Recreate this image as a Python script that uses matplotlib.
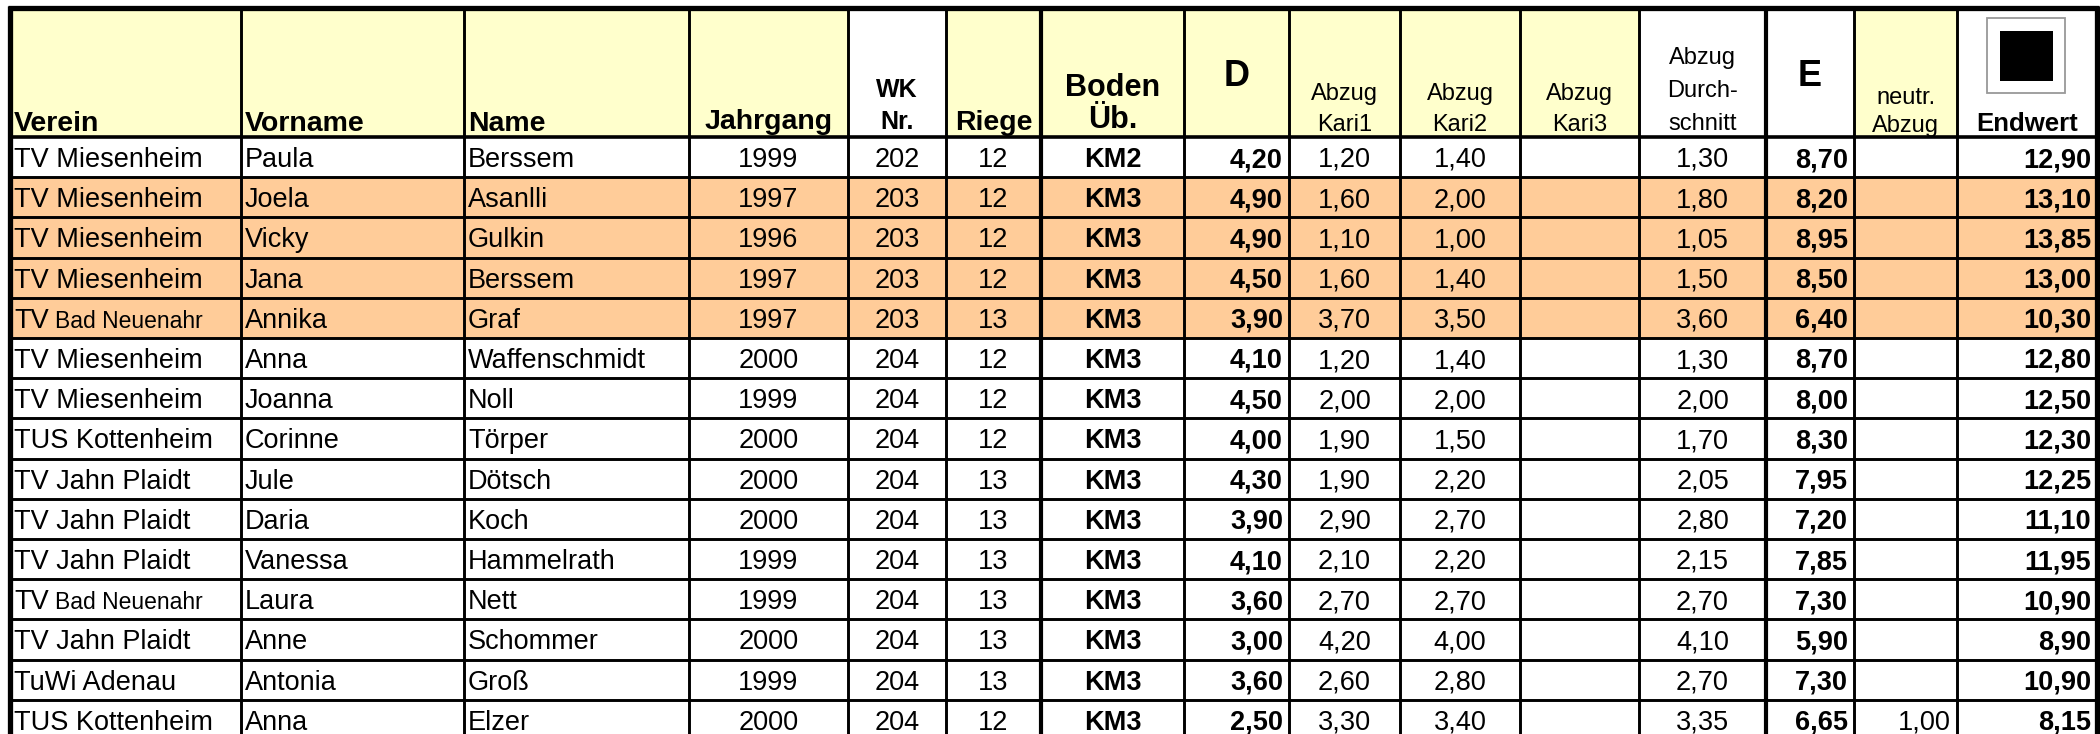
import matplotlib
matplotlib.use("Agg")
import matplotlib.pyplot as plt
from matplotlib.patches import Rectangle

plt.rcParams['font.family'] = ['Liberation Sans', 'DejaVu Sans']

# --- data -------------------------------------------------------------
verein = ["TV Miesenheim", "TV Miesenheim", "TV Miesenheim", "TV Miesenheim",
          "TV Bad Neuenahr", "TV Miesenheim", "TV Miesenheim", "TUS Kottenheim",
          "TV Jahn Plaidt", "TV Jahn Plaidt", "TV Jahn Plaidt", "TV Bad Neuenahr",
          "TV Jahn Plaidt", "TuWi Adenau", "TUS Kottenheim"]
vorname = ["Paula", "Joela", "Vicky", "Jana", "Annika", "Anna", "Joanna", "Corinne",
           "Jule", "Daria", "Vanessa", "Laura", "Anne", "Antonia", "Anna"]
name = ["Berssem", "Asanlli", "Gulkin", "Berssem", "Graf", "Waffenschmidt", "Noll",
        "Törper", "Dötsch", "Koch", "Hammelrath", "Nett", "Schommer", "Groß", "Elzer"]
jahrgang = [1999, 1997, 1996, 1997, 1997, 2000, 1999, 2000, 2000, 2000, 1999, 1999, 2000, 1999, 2000]
wk_nr = [202, 203, 203, 203, 203, 204, 204, 204, 204, 204, 204, 204, 204, 204, 204]
riege = [12, 12, 12, 12, 13, 12, 12, 12, 13, 13, 13, 13, 13, 13, 12]
boden = ["KM2"] + ["KM3"] * 14
d_wert = [4.20, 4.90, 4.90, 4.50, 3.90, 4.10, 4.50, 4.00, 4.30, 3.90, 4.10, 3.60, 3.00, 3.60, 2.50]
kari1 = [1.20, 1.60, 1.10, 1.60, 3.70, 1.20, 2.00, 1.90, 1.90, 2.90, 2.10, 2.70, 4.20, 2.60, 3.30]
kari2 = [1.40, 2.00, 1.00, 1.40, 3.50, 1.40, 2.00, 1.50, 2.20, 2.70, 2.20, 2.70, 4.00, 2.80, 3.40]
kari3 = [None] * 15
durchschnitt = [1.30, 1.80, 1.05, 1.50, 3.60, 1.30, 2.00, 1.70, 2.05, 2.80, 2.15, 2.70, 4.10, 2.70, 3.35]
e_wert = [8.70, 8.20, 8.95, 8.50, 6.40, 8.70, 8.00, 8.30, 7.95, 7.20, 7.85, 7.30, 5.90, 7.30, 6.65]
neutr = [None] * 14 + [1.00]
endwert = [12.90, 13.10, 13.85, 13.00, 10.30, 12.80, 12.50, 12.30, 12.25, 11.10, 11.95, 10.90, 8.90, 10.90, 8.15]
markiert = [False, True, True, True, True] + [False] * 10

# --- layout (pixels) --------------------------------------------------
W, H = 2100, 734
col_edges = [10, 241, 464, 689, 848, 946, 1041, 1184, 1289, 1400, 1520, 1639, 1766, 1854, 1957, 2097]
edge_lw = [3.8, 2.1, 2.1, 2.1, 2.1, 2.1, 3.0, 2.1, 2.1, 2.1, 2.1, 2.1, 3.0, 2.1, 2.1, 3.8]
top = 8
head_bottom = 137
row_h = 40.2
yellow = '#FFFFCC'
orange = '#FFCC99'
header_fill = [yellow, yellow, yellow, yellow, 'white', yellow, yellow, yellow,
               yellow, yellow, yellow, 'white', 'white', yellow, 'white']

fs = 19.5


def fmt(v):
    if v is None:
        return ""
    if isinstance(v, float):
        return f"{v:.2f}".replace(".", ",")
    return str(v)


fig = plt.figure(figsize=(W / 100, H / 100), dpi=100)
ax = fig.add_axes([0, 0, 1, 1])
ax.set_xlim(0, W)
ax.set_ylim(H, 0)
ax.axis('off')

# header background
for i, c in enumerate(header_fill):
    ax.add_patch(Rectangle((col_edges[i], top), col_edges[i + 1] - col_edges[i],
                           head_bottom - top, facecolor=c, edgecolor='none', zorder=0))

# row backgrounds
for r, m in enumerate(markiert):
    ax.add_patch(Rectangle((col_edges[0], head_bottom + r * row_h), col_edges[-1] - col_edges[0],
                           row_h, facecolor=orange if m else 'white', edgecolor='none', zorder=0))

# grid lines
for x, lw in zip(col_edges, edge_lw):
    ax.plot([x, x], [top - 2, H], color='black', lw=lw, solid_capstyle='butt', zorder=3)
ax.plot([col_edges[0] - 2, col_edges[-1] + 2], [top, top], color='black', lw=3.8,
        solid_capstyle='butt', zorder=3)
ax.plot([col_edges[0], col_edges[-1]], [head_bottom, head_bottom], color='black', lw=2.6, zorder=3)
for r in range(1, 16):
    y = head_bottom + r * row_h
    ax.plot([col_edges[0], col_edges[-1]], [y, y], color='black', lw=2.1, zorder=3)

# header texts: (column, lines as (text, baseline), size, weight, align)
headers = [
    (0, [("Verein", 131)], 20.5, 'bold', 'left'),
    (1, [("Vorname", 131)], 20.5, 'bold', 'left'),
    (2, [("Name", 131)], 20.5, 'bold', 'left'),
    (3, [("Jahrgang", 129)], 20.5, 'bold', 'center'),
    (4, [("WK", 97), ("Nr.", 129)], 18, 'bold', 'center'),
    (5, [("Riege", 130)], 20.5, 'bold', 'center'),
    (6, [("Boden", 96), ("Üb.", 128)], 22, 'bold', 'center'),
    (7, [("D", 86)], 26, 'bold', 'center'),
    (8, [("Abzug", 100), ("Kari1", 131)], 17, 'normal', 'center'),
    (9, [("Abzug", 100), ("Kari2", 131)], 17, 'normal', 'center'),
    (10, [("Abzug", 100), ("Kari3", 131)], 17, 'normal', 'center'),
    (11, [("Abzug", 64), ("Durch-", 97), ("schnitt", 130)], 17, 'normal', 'center'),
    (12, [("E", 86)], 26, 'bold', 'center'),
    (13, [("neutr.", 104), ("Abzug", 132)], 17, 'normal', 'center'),
    (14, [("Endwert", 131)], 18.5, 'bold', 'center'),
]
for c, lines, size, weight, align in headers:
    x0, x1 = col_edges[c], col_edges[c + 1]
    x = {'left': x0 + 4, 'center': (x0 + x1) / 2, 'right': x1 - 6}[align]
    for txt, yb in lines:
        ax.text(x, yb, txt, ha=align, va='baseline', fontsize=size, fontweight=weight, zorder=4)

# Endwert icon
ax.add_patch(Rectangle((1987, 18), 78, 75, facecolor='white', edgecolor='#999999', lw=1.3, zorder=4))
ax.add_patch(Rectangle((2000, 31), 53, 50, facecolor='black', edgecolor='none', zorder=5))

# body
columns = [verein, vorname, name, jahrgang, wk_nr, riege, boden, d_wert,
           kari1, kari2, kari3, durchschnitt, e_wert, neutr, endwert]
aligns = ['left', 'left', 'left', 'center', 'center', 'center', 'center', 'right',
          'center', 'center', 'center', 'center', 'right', 'right', 'right']
weights = ['normal'] * 6 + ['bold', 'bold'] + ['normal'] * 4 + ['bold', 'normal', 'bold']

renderer = fig.canvas.get_renderer()
for c, (vals, align, weight) in enumerate(zip(columns, aligns, weights)):
    x0, x1 = col_edges[c], col_edges[c + 1]
    x = {'left': x0 + 4, 'center': (x0 + x1) / 2, 'right': x1 - 6}[align]
    for r, v in enumerate(vals):
        yb = head_bottom + r * row_h + 30
        s = fmt(v)
        if c == 0 and s.startswith("TV Bad"):
            t = ax.text(x, yb, "TV", ha='left', va='baseline', fontsize=fs, zorder=4)
            bb = t.get_window_extent(renderer)
            x_next = ax.transData.inverted().transform((bb.x1, bb.y0))[0] + 6
            ax.text(x_next, yb, s[3:], ha='left', va='baseline', fontsize=16.5, zorder=4)
            continue
        ax.text(x, yb, s, ha=align, va='baseline', fontsize=fs, fontweight=weight, zorder=4)

fig.savefig("out.png", dpi=100)
